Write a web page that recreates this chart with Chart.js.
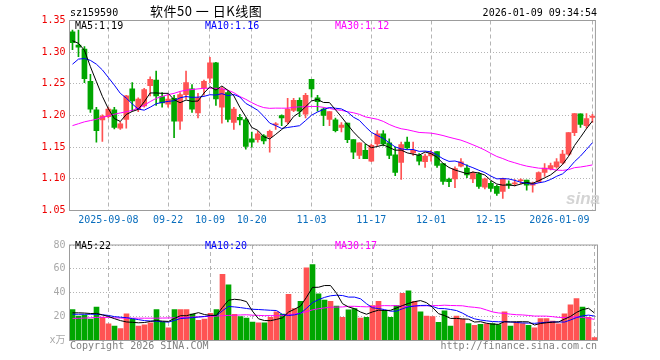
<!DOCTYPE html>
<html>
<head>
<meta charset="utf-8">
<script src="https://cdn.jsdelivr.net/npm/chart.js@4.4.1/dist/chart.umd.min.js"></script>
<style>
body { margin: 0; background: #fff; }
#wrap { position: relative; width: 660px; height: 360px; overflow: hidden; }
canvas { position: absolute; left: 0; }
.t { position: absolute; font: 10px "DejaVu Sans Mono", monospace; line-height: 12px; white-space: pre; color: #000; }
</style>
</head>
<body>
<div id="wrap">
  <canvas id="kline" width="660" height="235" style="top:0"></canvas>
  <canvas id="vol" width="660" height="125" style="top:235px"></canvas>

  <div class="t" style="left:70px;top:7px">sz159590</div>
  <div class="t" style="left:150px;top:2px;font:13px 'Noto Sans CJK SC';line-height:17px;letter-spacing:0.5px">软件50 一 日K线图</div>
  <div class="t" style="right:63px;top:7px">2026-01-09 09:34:54</div>

  <div class="t" style="left:75px;top:20px">MA5:1.19</div>
  <div class="t" style="left:205px;top:20px;color:#0000ff">MA10:1.16</div>
  <div class="t" style="left:335px;top:20px;color:#ff00ff">MA30:1.12</div>

  <div class="t" style="left:566px;top:189px;font:italic bold 17px 'Liberation Sans';line-height:20px;color:#d4d4d4">sina</div>

  <div class="t" style="left:75px;top:240px">MA5:22</div>
  <div class="t" style="left:205px;top:240px;color:#0000ff">MA10:20</div>
  <div class="t" style="left:335px;top:240px;color:#ff00ff">MA30:17</div>

  <div class="t" style="left:70px;top:340px;color:#808080">Copyright 2026 SINA.COM</div>
  <div class="t" style="right:63px;top:340px;color:#808080">http://finance.sina.com.cn</div>
</div>
<script>
// trading days shown (2025-08-29 .. 2026-01-09)
const dates = [
  '2025-08-29','2025-09-01','2025-09-02','2025-09-03','2025-09-04','2025-09-05',
  '2025-09-08','2025-09-09','2025-09-10','2025-09-11','2025-09-12',
  '2025-09-15','2025-09-16','2025-09-17','2025-09-18','2025-09-19',
  '2025-09-22','2025-09-23','2025-09-24','2025-09-25','2025-09-26','2025-09-29','2025-09-30',
  '2025-10-09','2025-10-10','2025-10-13','2025-10-14','2025-10-15','2025-10-16','2025-10-17',
  '2025-10-20','2025-10-21','2025-10-22','2025-10-23','2025-10-24',
  '2025-10-27','2025-10-28','2025-10-29','2025-10-30','2025-10-31',
  '2025-11-03','2025-11-04','2025-11-05','2025-11-06','2025-11-07',
  '2025-11-10','2025-11-11','2025-11-12','2025-11-13','2025-11-14',
  '2025-11-17','2025-11-18','2025-11-19','2025-11-20','2025-11-21',
  '2025-11-24','2025-11-25','2025-11-26','2025-11-27','2025-11-28',
  '2025-12-01','2025-12-02','2025-12-03','2025-12-04','2025-12-05',
  '2025-12-08','2025-12-09','2025-12-10','2025-12-11','2025-12-12',
  '2025-12-15','2025-12-16','2025-12-17','2025-12-18','2025-12-19',
  '2025-12-22','2025-12-23','2025-12-24','2025-12-25','2025-12-26',
  '2025-12-29','2025-12-30','2025-12-31',
  '2026-01-05','2026-01-06','2026-01-07','2026-01-08','2026-01-09'
];

// labelled dates on the time axis
const tickText = {
  '2025-09-08': '2025-09-08', '2025-09-22': '09-22', '2025-10-09': '10-09',
  '2025-10-20': '10-20', '2025-11-03': '11-03', '2025-11-17': '11-17',
  '2025-12-01': '12-01', '2025-12-15': '12-15', '2026-01-09': '2026-01-09           '
};

const opens = [
  1.332,1.311,1.305,1.254,1.209,1.193,1.198,1.209,1.180,1.194,
  1.242,1.210,1.215,1.247,1.256,1.230,1.218,1.227,1.191,1.233,
  1.242,1.204,1.244,1.259,1.283,1.213,1.236,1.189,1.197,1.193,
  1.163,1.162,1.168,1.166,1.185,1.200,1.190,1.208,1.224,1.202,
  1.257,1.228,1.210,1.194,1.193,1.181,1.188,1.162,1.137,1.145,
  1.128,1.155,1.171,1.157,1.138,1.126,1.158,1.141,1.137,1.127,
  1.136,1.143,1.124,1.0995,1.100,1.120,1.117,1.100,1.108,1.087,
  1.093,1.088,1.080,1.092,1.092,1.097,1.098,1.090,1.095,1.110,
  1.116,1.119,1.125,1.139,1.173,1.2025,1.184,1.197
];
const highs = [
  1.335,1.335,1.309,1.265,1.213,1.201,1.213,1.213,1.190,1.232,
  1.252,1.228,1.243,1.261,1.270,1.236,1.233,1.232,1.236,1.270,
  1.249,1.235,1.256,1.292,1.284,1.245,1.239,1.213,1.202,1.196,
  1.174,1.175,1.170,1.177,1.189,1.201,1.227,1.227,1.228,1.235,
  1.257,1.232,1.212,1.206,1.196,1.189,1.188,1.162,1.157,1.155,
  1.155,1.176,1.176,1.163,1.150,1.158,1.166,1.158,1.140,1.139,
  1.145,1.143,1.124,1.101,1.119,1.132,1.122,1.111,1.110,1.101,
  1.096,1.090,1.101,1.097,1.099,1.100,1.098,1.095,1.111,1.124,
  1.125,1.132,1.145,1.173,1.203,1.2025,1.203,1.202
];
const lows = [
  1.304,1.293,1.252,1.205,1.158,1.159,1.196,1.179,1.178,1.180,
  1.207,1.206,1.213,1.231,1.216,1.213,1.213,1.165,1.178,1.226,
  1.205,1.196,1.232,1.252,1.216,1.188,1.190,1.178,1.185,1.147,
  1.150,1.158,1.155,1.142,1.178,1.184,1.187,1.206,1.198,1.196,
  1.229,1.207,1.184,1.184,1.174,1.174,1.157,1.132,1.132,1.132,
  1.127,1.152,1.152,1.132,1.105,1.099,1.147,1.137,1.122,1.118,
  1.128,1.118,1.091,1.0875,1.086,1.119,1.102,1.094,1.085,1.084,
  1.080,1.074,1.069,1.085,1.089,1.092,1.082,1.079,1.094,1.104,
  1.114,1.117,1.123,1.137,1.168,1.181,1.180,1.189
];
const closes = [
  1.315,1.308,1.258,1.210,1.176,1.199,1.210,1.181,1.187,1.231,
  1.223,1.226,1.241,1.257,1.231,1.220,1.226,1.191,1.233,1.252,
  1.210,1.228,1.254,1.283,1.226,1.242,1.194,1.210,1.193,1.151,
  1.158,1.171,1.160,1.175,1.187,1.196,1.210,1.224,1.207,1.232,
  1.242,1.222,1.200,1.206,1.176,1.185,1.162,1.142,1.157,1.132,
  1.153,1.171,1.155,1.137,1.110,1.154,1.149,1.145,1.128,1.136,
  1.141,1.121,1.096,1.0955,1.116,1.127,1.106,1.109,1.088,1.100,
  1.085,1.077,1.100,1.090,1.0935,1.098,1.090,1.093,1.110,1.117,
  1.121,1.127,1.139,1.173,1.203,1.186,1.195,1.199
];
// volume, 10k lots
const volumes = [
  25.9,20.5,21.3,17.9,28,19.5,13.9,12,9.9,22.4,
  17.9,12,13.1,14.7,25.9,15.5,10.7,25.9,25.9,25.9,
  22.1,16.8,17.9,22.7,25.9,55.5,46.7,21.9,20,18.7,
  15.5,14.7,14.7,19.5,24,22.1,38.7,26.7,32.8,60.8,
  63.5,39.2,33.9,32.8,28.8,19.5,25.6,26.7,18.7,19.5,
  29.3,32.8,25.3,19.5,29.3,39.5,41.6,32.8,24,20.5,
  20,15.2,24.8,12,20.5,17.9,14.1,12.8,13.6,13.9,
  14.1,13.3,24,12,15.2,14.1,12.8,10.7,18.4,18.4,
  16.3,13.9,22.4,29.9,35.2,28,19.5,2.4
];

// averages at the left edge (their windows start before the first day shown)
const ma5Lead = [1.318, 1.314, 1.303, 1.277];
const ma10Lead = [1.281, 1.289, 1.290, 1.287, 1.281, 1.272, 1.260, 1.248, 1.235];
const ma30Lead = [1.184,1.187,1.190,1.192,1.194,1.197,1.1995,1.202,1.204,1.206,
  1.208,1.212,1.216,1.222,1.227,1.230,1.233,1.235,1.238,1.240,
  1.241,1.242,1.243,1.243,1.243,1.242,1.240,1.236,1.230];
const vol5Lead = [23.2, 23.2, 23, 22.6];
const vol10Lead = [22, 22, 22, 22, 22, 21.5, 21, 20, 19.5];
const vol30Lead = [18.5,18.6,18.8,19,19.3,19.5,19.3,19,18.8,18.7,
  18.7,18.7,18.7,18.7,18.7,18.8,18.9,19,19.2,19.4,
  19.6,19.8,20,20.2,20.5,20.8,21,21.2,21.4];

function movingAverage(values, n, lead) {
  return values.map((v, i) => i < n - 1 ? lead[i]
    : values.slice(i - n + 1, i + 1).reduce((a, b) => a + b, 0) / n);
}

const upColor = '#ff5353', downColor = '#00a600';
const colors = closes.map((c, i) => c >= opens[i] ? upColor : downColor);
const mono = { family: 'DejaVu Sans Mono', size: 10 };
const gridGray = '#b4b4b4';

const frame = {
  id: 'frame',
  afterDraw(chart) {
    const { ctx, chartArea: a } = chart;
    ctx.save();
    ctx.strokeStyle = '#9c9c9c';
    ctx.lineWidth = 1;
    ctx.strokeRect(a.left, a.top, a.right - a.left, a.bottom - a.top);
    ctx.restore();
  }
};

function maLine(data, color) {
  return { type: 'line', data, borderColor: color, borderWidth: 1, pointRadius: 0, tension: 0, order: 0 };
}

function xScale(showLabels, height) {
  return {
    offset: true,
    grid: {
      offset: false, drawTicks: false, lineWidth: 1,
      color: ctx => tickText[dates[ctx.index]] ? gridGray : 'rgba(0,0,0,0)'
    },
    border: { display: false, dash: [4, 3] },
    ticks: {
      display: showLabels, autoSkip: false, maxRotation: 0, minRotation: 0, padding: 4,
      color: '#0a6ebd', font: mono,
      callback: (v, i) => tickText[dates[i]] || ''
    },
    afterFit: s => { s.height = height; }
  };
}

new Chart(document.getElementById('kline'), {
  type: 'bar',
  data: {
    labels: dates,
    datasets: [
      maLine(movingAverage(closes, 5, ma5Lead), '#000000'),
      maLine(movingAverage(closes, 10, ma10Lead), '#0000ff'),
      maLine(movingAverage(closes, 30, ma30Lead), '#ff00ff'),
      { data: dates.map((d, i) => [opens[i], closes[i]]), backgroundColor: colors,
        barThickness: 5, grouped: false, minBarLength: 1, order: 1 },
      { data: dates.map((d, i) => [lows[i], highs[i]]), backgroundColor: colors,
        barThickness: 1, grouped: false, minBarLength: 1, order: 2 }
    ]
  },
  options: {
    responsive: false, animation: false,
    layout: { padding: { left: 0.5, right: 62.5, top: 20.5, bottom: 0 } },
    plugins: { legend: { display: false }, tooltip: { enabled: false } },
    scales: {
      x: xScale(true, 24.5),
      y: {
        min: 1.05, max: 1.35,
        ticks: { stepSize: 0.05, padding: 4, color: '#ee0000', font: mono, callback: v => v.toFixed(2) },
        grid: { drawTicks: false, color: gridGray },
        border: { display: false, dash: [1, 2] },
        afterFit: s => { s.width = 69; }
      }
    }
  },
  plugins: [frame]
});

new Chart(document.getElementById('vol'), {
  type: 'bar',
  data: {
    labels: dates,
    datasets: [
      maLine(movingAverage(volumes, 5, vol5Lead), '#000000'),
      maLine(movingAverage(volumes, 10, vol10Lead), '#0000ff'),
      maLine(movingAverage(volumes, 30, vol30Lead), '#ff00ff'),
      { data: volumes, backgroundColor: colors, barThickness: 5, grouped: false, order: 1 }
    ]
  },
  options: {
    responsive: false, animation: false,
    layout: { padding: { left: 0.5, right: 62.5, top: 5.5, bottom: 0 } },
    plugins: { legend: { display: false }, tooltip: { enabled: false } },
    scales: {
      x: xScale(false, 19.5),
      y: {
        min: 0, max: 80,
        ticks: { stepSize: 20, padding: 4, color: '#a8a8a8',
          font: { family: "'DejaVu Sans Mono', 'Noto Sans CJK SC'", size: 10 },
          callback: v => v === 0 ? 'x万' : v },
        grid: { drawTicks: false, color: gridGray },
        border: { display: false, dash: [1, 2] },
        afterFit: s => { s.width = 69; }
      }
    }
  },
  plugins: [frame]
});
</script>
</body>
</html>
